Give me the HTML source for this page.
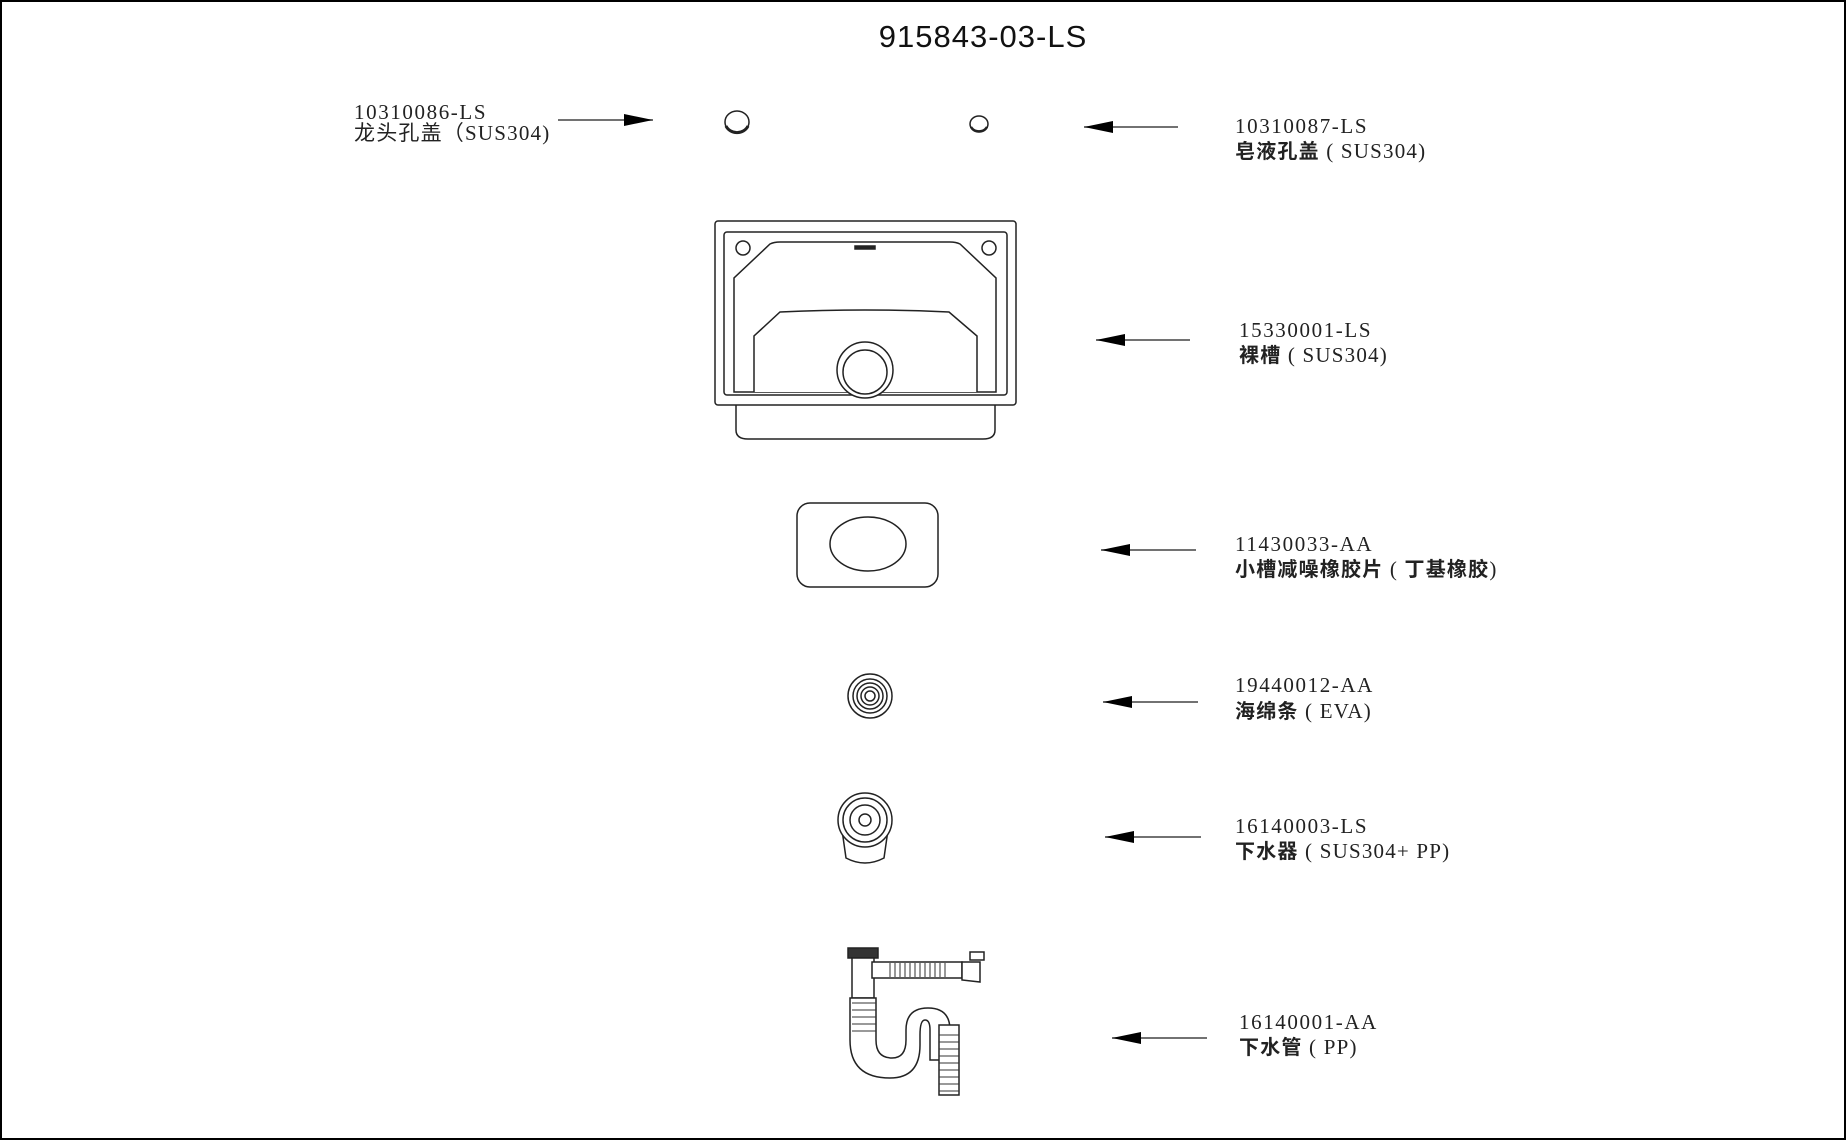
<!DOCTYPE html>
<html><head><meta charset="utf-8"><style>
html,body{margin:0;padding:0;background:#fff;}
svg{display:block;}
.c{font-family:"Liberation Serif",serif;font-size:21px;fill:#222;letter-spacing:1.6px;}
.z{font-family:"Liberation Serif","Noto Sans CJK SC",serif;font-size:21px;fill:#222;letter-spacing:1.2px;}
.zb{font-family:"Noto Sans CJK SC",sans-serif;font-weight:bold;font-size:20px;}
</style></head><body>
<svg width="1846" height="1140" viewBox="0 0 1846 1140" xmlns="http://www.w3.org/2000/svg">
<defs><marker id="a" markerWidth="30" markerHeight="12" refX="29" refY="6" orient="auto" markerUnits="userSpaceOnUse"><path d="M0,0 L29,6 L0,12 Z" fill="#000"/></marker></defs>
<rect x="1" y="1" width="1844" height="1138" fill="none" stroke="#000" stroke-width="2"/>
<text x="983" y="47" text-anchor="middle" font-family="Liberation Sans,sans-serif" font-size="31" letter-spacing="1" fill="#111">915843-03-LS</text>

<g stroke="#444" stroke-width="1.4" fill="none">
<line x1="558" y1="120" x2="653" y2="120" marker-end="url(#a)"/>
<line x1="1178" y1="127" x2="1084" y2="127" marker-end="url(#a)"/>
<line x1="1190" y1="340" x2="1096" y2="340" marker-end="url(#a)"/>
<line x1="1196" y1="550" x2="1101" y2="550" marker-end="url(#a)"/>
<line x1="1198" y1="702" x2="1103" y2="702" marker-end="url(#a)"/>
<line x1="1201" y1="837" x2="1105" y2="837" marker-end="url(#a)"/>
<line x1="1207" y1="1038" x2="1112" y2="1038" marker-end="url(#a)"/>
</g>

<text class="c" x="354" y="119">10310086-LS</text>
<text class="z" x="354" y="140">龙头孔盖（SUS304)</text>
<text class="c" x="1235" y="133">10310087-LS</text>
<text class="z" x="1235" y="158"><tspan class="zb">皂液孔盖</tspan> ( SUS304)</text>
<text class="c" x="1239" y="337">15330001-LS</text>
<text class="z" x="1239" y="362"><tspan class="zb">裸槽</tspan> ( SUS304)</text>
<text class="c" x="1235" y="551">11430033-AA</text>
<text class="z" x="1235" y="576"><tspan class="zb">小槽减噪橡胶片</tspan> ( <tspan class="zb">丁基橡胶</tspan>)</text>
<text class="c" x="1235" y="692">19440012-AA</text>
<text class="z" x="1235" y="718"><tspan class="zb">海绵条</tspan> ( EVA)</text>
<text class="c" x="1235" y="833">16140003-LS</text>
<text class="z" x="1235" y="858"><tspan class="zb">下水器</tspan> ( SUS304+ PP)</text>
<text class="c" x="1239" y="1029">16140001-AA</text>
<text class="z" x="1239" y="1054"><tspan class="zb">下水管</tspan> ( PP)</text>

<g stroke="#222" stroke-width="1.5" fill="#fff">
<ellipse cx="737" cy="122" rx="12" ry="11"/><path d="M726,126 A12,11 0 0 0 748,126" stroke-width="3" fill="none"/>
<ellipse cx="979" cy="124" rx="9" ry="8"/><path d="M971,127 A9,8 0 0 0 987,127" stroke-width="2.5" fill="none"/>

<path d="M736,405 L736,430 Q736,439 748,439 L983,439 Q995,439 995,430 L995,405" />
<rect x="715" y="221" width="301" height="184" rx="3"/>
<rect x="724" y="232" width="283" height="163" rx="3"/>
<path d="M734,392 L734,278 L770,244 Q774,242 780,242 L950,242 Q956,242 960,244 L996,278 L996,392 Z"/>
<path d="M754,392 L754,336 L780,312 Q865,308 949,312 L977,336 L977,392" />
<circle cx="743" cy="248" r="7"/><circle cx="989" cy="248" r="7"/>
<rect x="855" y="246" width="20" height="3" fill="#222"/>
<circle cx="865" cy="370" r="28"/><circle cx="865" cy="372" r="22"/>

<rect x="797" y="503" width="141" height="84" rx="13"/>
<ellipse cx="868" cy="544" rx="38" ry="27"/>

<circle cx="870" cy="696" r="22"/>
<circle cx="870" cy="696" r="17"/><circle cx="870" cy="696" r="13"/><circle cx="870" cy="696" r="9"/><circle cx="870" cy="696" r="5"/>

<path d="M842,830 L846,858 Q865,868 884,858 L888,830"/>
<circle cx="865" cy="820" r="27"/><circle cx="865" cy="820" r="22"/><circle cx="865" cy="820" r="15"/><circle cx="865" cy="820" r="6"/>

<rect x="848" y="948" width="30" height="10" fill="#333"/>
<rect x="852" y="958" width="22" height="40"/>
<rect x="872" y="962" width="90" height="16"/>
<path d="M962,962 L980,962 L980,982 L962,980 Z"/>
<rect x="970" y="952" width="14" height="8"/>
<path d="M850,998 L876,998 L876,1040 Q876,1058 892,1058 Q906,1058 906,1040 L906,1030 Q906,1008 928,1008 Q950,1008 950,1030 L950,1060 L930,1060 L930,1030 Q930,1020 925,1020 Q920,1020 920,1035 L920,1045 Q920,1078 890,1078 Q850,1078 850,1040 Z"/>
<rect x="939" y="1025" width="20" height="70"/>
</g>
<g stroke="#333" stroke-width="1">
<path d="M890,963V977M895,963V977M900,963V977M905,963V977M910,963V977M915,963V977M920,963V977M925,963V977M930,963V977M935,963V977M940,963V977M945,963V977"/>
<path d="M852,1003H876M852,1010H876M852,1017H876M852,1024H876M852,1031H876M939,1035H959M939,1042H959M939,1049H959M939,1056H959M939,1063H959M939,1070H959M939,1077H959M939,1084H959M939,1091H959"/>
</g>
</svg>
</body></html>
